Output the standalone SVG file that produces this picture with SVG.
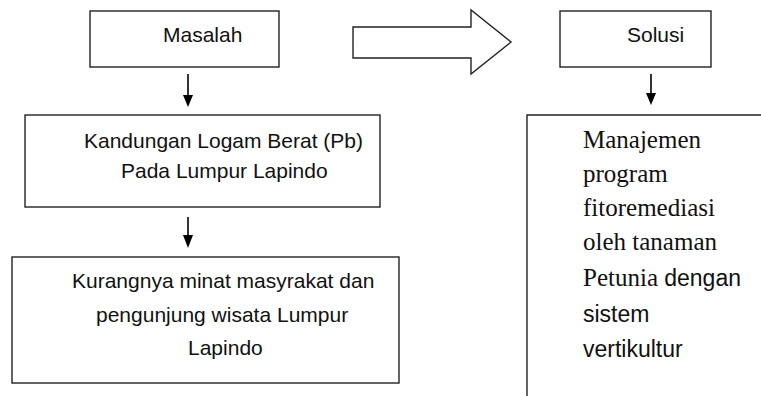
<svg xmlns="http://www.w3.org/2000/svg" width="761" height="396" viewBox="0 0 761 396">
<style>
.box{fill:#fff;stroke:#222;stroke-width:1.4}
.sans{font-family:"Liberation Sans",Arial,sans-serif;font-size:21px;fill:#111}
.sansR{font-family:"Liberation Sans",Arial,sans-serif;font-size:23px;fill:#111}
.serif{font-family:"Liberation Serif","Times New Roman",serif;font-size:25px;fill:#111}
.conn line{stroke:#000;stroke-width:1.6}
.conn polygon.head{fill:#000}
</style>
<rect width="761" height="396" fill="#fff"/>
<g id="masalah">
<rect class="box" x="90" y="11" width="189" height="56"/>
<text class="sans" x="163" y="42">Masalah</text>
</g>
<g id="solusi">
<rect class="box" x="560" y="11" width="151" height="56"/>
<text class="sans" x="627" y="42">Solusi</text>
</g>
<g id="kandungan">
<rect class="box" x="25" y="115" width="355" height="92"/>
<text class="sans" x="84" y="148">Kandungan Logam Berat (Pb)</text>
<text class="sans" x="121" y="178">Pada Lumpur Lapindo</text>
</g>
<g id="kurangnya">
<rect class="box" x="12" y="257" width="387" height="126"/>
<text class="sans" x="72" y="288">Kurangnya minat masyrakat dan</text>
<text class="sans" x="96" y="322">pengunjung wisata Lumpur</text>
<text class="sans" x="188" y="355">Lapindo</text>
</g>
<g id="manajemen">
<path class="box" d="M761,115 H527 V396" fill="none"/>
<text class="serif" x="583" y="148">Manajemen</text>
<text class="serif" x="583" y="182">program</text>
<text class="serif" x="583" y="216">fitoremediasi</text>
<text class="serif" x="583" y="250">oleh tanaman</text>
<text x="583" y="286"><tspan class="serif">Petunia </tspan><tspan class="sansR">dengan</tspan></text>
<text class="sansR" x="583" y="322">sistem</text>
<text class="sansR" x="583" y="357">vertikultur</text>
</g>
<g id="connectors" class="conn">
<polygon points="353,27 471,27 471,10 511,42 471,74 471,58 353,58" fill="#fff" stroke="#222" stroke-width="1.4"/>
<line x1="188" y1="74" x2="188" y2="96"/>
<polygon class="head" points="183,95 193,95 188,107"/>
<line x1="188" y1="217" x2="188" y2="236"/>
<polygon class="head" points="183,235 193,235 188,248"/>
<line x1="651" y1="74" x2="651" y2="94"/>
<polygon class="head" points="646,93 656,93 651,105"/>
</g>
</svg>
